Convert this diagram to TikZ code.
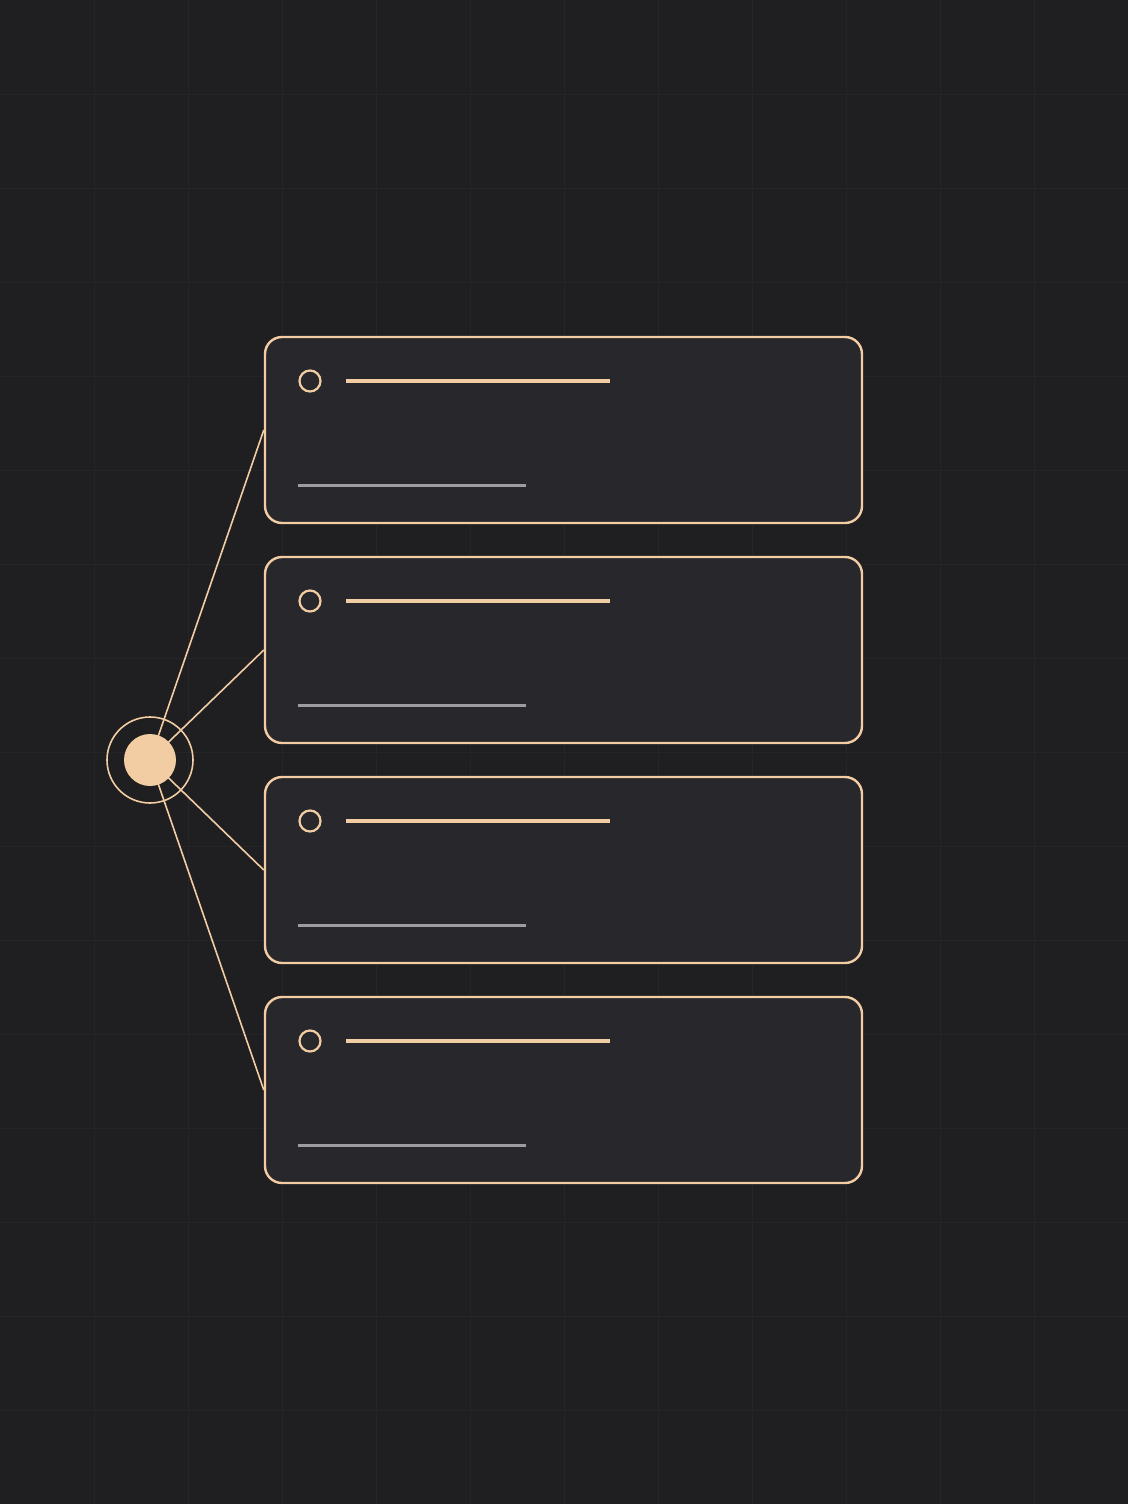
\documentclass[tikz,border=0pt]{standalone}
\usetikzlibrary{calc}
\definecolor{bg}{HTML}{1F1F21}
\definecolor{gridc}{HTML}{252528}
\definecolor{cardfill}{HTML}{28282C}
\definecolor{peach}{HTML}{F2CDA4}
\definecolor{greyline}{HTML}{9C9CA2}
\tikzset{
  cardbox/.style={draw=peach, line width=2.4pt, fill=cardfill, rounded corners=17pt, rectangle, minimum width=597pt, minimum height=186pt, inner sep=0pt},
  dotring/.style={draw=peach, line width=2.2pt, circle, minimum size=21pt, inner sep=0pt},
  titlebar/.style={draw=peach, line width=3.2pt},
  subbar/.style={draw=greyline, line width=3pt},
  link/.style={draw=peach, line width=1.6pt},
  hubdot/.style={fill=peach, circle, minimum size=52pt, inner sep=0pt},
  hubring/.style={draw=peach, line width=1.6pt, circle, minimum size=86pt, inner sep=0pt},
}
\begin{document}
\begin{tikzpicture}[x=1pt,y=-1pt]
\fill[bg] (0,0) rectangle (1128,1504);
\useasboundingbox (0,0) rectangle (1128,1504);
\foreach \gx in {94,188,...,1034} \draw[gridc, line width=1pt] (\gx,0) -- (\gx,1504);
\foreach \gy in {94,188,...,1410} \draw[gridc, line width=1pt] (0,\gy) -- (1128,\gy);
\coordinate (hc) at (150,760);
\foreach \i/\cy in {1/430,2/650,3/870,4/1090} {
  \node[cardbox] (card\i) at (563.5,\cy) {};
  \node[dotring] (dot\i) at (310,\cy-49) {};
  \coordinate (ta\i) at (346,\cy-49);
  \coordinate (tb\i) at (610,\cy-49);
  \draw[titlebar] (ta\i) -- (tb\i);
  \coordinate (sa\i) at (298,\cy+55);
  \coordinate (sb\i) at (526,\cy+55);
  \draw[subbar] (sa\i) -- (sb\i);
  \draw[link] (hc) -- (card\i.west);
}
\node[hubring] (ring) at (hc) {};
\node[hubdot] (hub) at (hc) {};
\end{tikzpicture}
\end{document}
